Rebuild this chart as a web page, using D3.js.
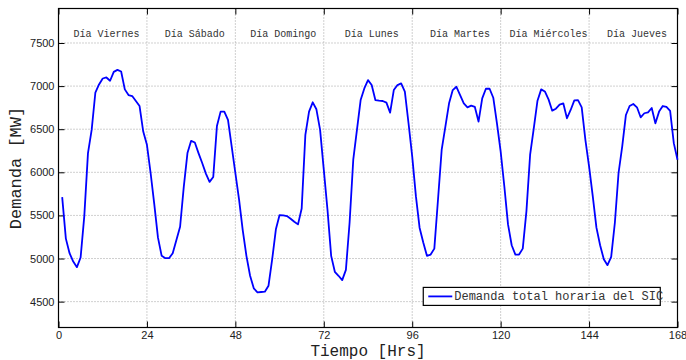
<!DOCTYPE html>
<html>
<head>
<meta charset="utf-8">
<script src="https://cdn.jsdelivr.net/npm/d3@7"></script>
<style>
  body { margin: 0; background: #fff; }
  #chart svg { display: block; }
</style>
</head>
<body>
<div id="chart"></div>
<script>
// horas 1..168, demanda horaria [MW]
const hours = d3.range(1, 169);
const demand = [
  5712, 5231, 5062, 4965, 4900, 5012, 5492, 6223, 6492, 6923, 7019, 7088,
  7100, 7062, 7165, 7188, 7169, 6962, 6896, 6885, 6827, 6769, 6473, 6319,
  5992, 5627, 5242, 5031, 5004, 5004, 5062, 5215, 5369, 5831, 6223, 6365,
  6346, 6223, 6108, 5985, 5889, 5946, 6538, 6704, 6704, 6608, 6300, 5992,
  5685, 5330, 5031, 4800, 4654, 4608, 4612, 4615, 4685, 4992, 5339, 5504,
  5500, 5492, 5462, 5427, 5396, 5581, 6435, 6704, 6812, 6731, 6492, 6031,
  5569, 5031, 4846, 4800, 4750, 4869, 5415, 6146, 6492, 6838, 6973, 7069,
  7012, 6838, 6831, 6827, 6808, 6692, 6954, 7012, 7031, 6935, 6569, 6185,
  5723, 5358, 5185, 5031, 5046, 5115, 5685, 6262, 6531, 6800, 6954, 6992,
  6896, 6800, 6754, 6773, 6758, 6589, 6858, 6969, 6969, 6865, 6569, 6242,
  5838, 5396, 5154, 5046, 5046, 5115, 5550, 6204, 6512, 6831, 6962, 6938,
  6846, 6715, 6738, 6785, 6800, 6627, 6723, 6835, 6838, 6754, 6377, 6069,
  5723, 5358, 5154, 4992, 4923, 5019, 5415, 5992, 6300, 6665, 6769, 6792,
  6754, 6638, 6685, 6696, 6746, 6569, 6704, 6769, 6758, 6712, 6338, 6146
];
const days = ["Día Viernes", "Día Sábado", "Día Domingo", "Día Lunes",
              "Día Martes", "Día Miércoles", "Día Jueves"];
const xTicks = [0, 24, 48, 72, 96, 120, 144, 168];
const yTicks = [4500, 5000, 5500, 6000, 6500, 7000, 7500];
const seriesName = "Demanda total horaria del SIC";

const W = 686, H = 360;
const margin = { top: 8.5, right: 8.5, bottom: 32.5, left: 58.5 };
const width = W - margin.left - margin.right;
const height = H - margin.top - margin.bottom;

const svg = d3.select('#chart')
  .append('svg')
  .attr('width', W)
  .attr('height', H)
  .append('g')
  .attr('transform', `translate(${margin.left}, ${margin.top})`);

const x = d3.scaleLinear().domain([0, 168]).range([0, width]);
const y = d3.scaleLinear().domain([4200, 7900]).range([height, 0]);

const sans = '"Liberation Sans", Arial, Helvetica, sans-serif';
const mono = '"Liberation Mono", "DejaVu Sans Mono", monospace';

//grid
svg.append('g')
  .selectAll('line')
  .data(xTicks.slice(1, -1))
  .enter().append('line')
  .attr('x1', d => x(d)).attr('x2', d => x(d))
  .attr('y1', 0).attr('y2', height)
  .attr('stroke', '#a0a0a0')
  .attr('stroke-dasharray', '1,2');

svg.append('g')
  .selectAll('line')
  .data(yTicks)
  .enter().append('line')
  .attr('x1', 0).attr('x2', width)
  .attr('y1', d => y(d)).attr('y2', d => y(d))
  .attr('stroke', '#a0a0a0')
  .attr('stroke-dasharray', '1,2');

//axes (ticks inward, boxed)
const styleAxis = g => {
  g.select('.domain').remove();
  g.selectAll('.tick line').attr('stroke', '#000');
  g.selectAll('text').attr('font-family', sans).attr('font-size', '11px').attr('fill', '#222');
};

svg.append('g')
  .attr('transform', `translate(0, ${height})`)
  .call(d3.axisBottom(x).tickValues(xTicks).tickSizeInner(-6).tickSizeOuter(0).tickPadding(4))
  .call(styleAxis);

svg.append('g')
  .call(d3.axisTop(x).tickValues(xTicks).tickSizeInner(-6).tickSizeOuter(0).tickFormat(''))
  .call(styleAxis);

svg.append('g')
  .call(d3.axisLeft(y).tickValues(yTicks).tickFormat(d3.format('d'))
    .tickSizeInner(-6).tickSizeOuter(0).tickPadding(4))
  .call(styleAxis);

svg.append('g')
  .attr('transform', `translate(${width}, 0)`)
  .call(d3.axisRight(y).tickValues(yTicks).tickSizeInner(-6).tickSizeOuter(0).tickFormat(''))
  .call(styleAxis);

svg.append('rect')
  .attr('width', width).attr('height', height)
  .attr('fill', 'none').attr('stroke', '#000').attr('stroke-width', 1.2);

//day labels
svg.append('g')
  .selectAll('text')
  .data(days)
  .enter().append('text')
  .attr('x', (d, i) => x(i * 24 + 13))
  .attr('y', 28.5)
  .attr('text-anchor', 'middle')
  .attr('font-family', mono)
  .attr('font-size', '10px')
  .attr('fill', '#333')
  .text(d => d);

//line
const line = d3.line()
  .x((d, i) => x(hours[i]))
  .y(d => y(d));

svg.append('path')
  .datum(demand)
  .attr('fill', 'none')
  .attr('stroke', '#0000ff')
  .attr('stroke-width', 1.8)
  .attr('stroke-linejoin', 'round')
  .attr('d', line);

//legend
const legend = svg.append('g')
  .attr('transform', `translate(${x(99)}, ${y(4665)})`);

legend.append('rect')
  .attr('width', 237).attr('height', 18)
  .attr('fill', '#fff').attr('stroke', '#000').attr('stroke-width', 1.2);

legend.append('line')
  .attr('x1', 5).attr('x2', 29)
  .attr('y1', 9).attr('y2', 9)
  .attr('stroke', '#0000ff').attr('stroke-width', 1.8);

legend.append('text')
  .attr('x', 31).attr('y', 13)
  .attr('font-family', mono)
  .attr('font-size', '12px')
  .attr('fill', '#333')
  .text(seriesName);

//axis titles
svg.append('text')
  .attr('x', width / 2)
  .attr('y', height + 28)
  .attr('text-anchor', 'middle')
  .attr('font-family', mono)
  .attr('font-size', '16px')
  .attr('fill', '#222')
  .text('Tiempo [Hrs]');

svg.append('text')
  .attr('transform', `translate(${-38}, ${height / 2}) rotate(-90)`)
  .attr('text-anchor', 'middle')
  .attr('font-family', mono)
  .attr('font-size', '17px')
  .attr('fill', '#222')
  .text('Demanda [MW]');
</script>
</body>
</html>
